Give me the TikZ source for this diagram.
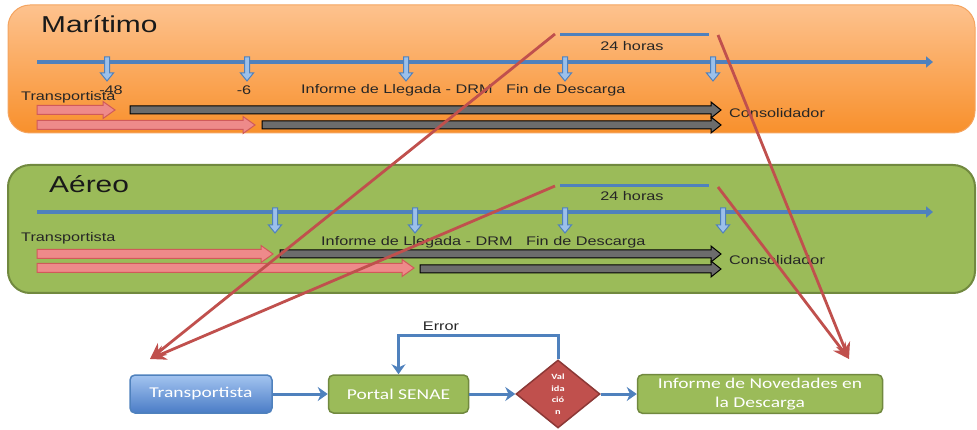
\documentclass[tikz,border=0pt]{standalone}
\usepackage{fontspec}
\setmainfont{Liberation Sans}
\newfontfamily\lblfont[FakeStretch=1.3]{Liberation Sans}
\newfontfamily\boxfont[FakeStretch=1.3]{Carlito}
\usetikzlibrary{arrows.meta, positioning, shapes.geometric}
\definecolor{tlblue}{HTML}{4F81BD}
\definecolor{tlbluelight}{HTML}{9CC0EA}
\definecolor{seablueT}{HTML}{A3C4F0}
\definecolor{seablueB}{HTML}{4A7CC6}
\definecolor{orangeT}{HTML}{FDC28E}
\definecolor{orangeB}{HTML}{F8902C}
\definecolor{orangeD}{HTML}{F4A460}
\definecolor{leafgreen}{HTML}{9BBB59}
\definecolor{leafdark}{HTML}{71893F}
\definecolor{brick}{HTML}{C0504D}
\definecolor{brickdark}{HTML}{8C3836}
\definecolor{salmon}{HTML}{EE8A8A}
\definecolor{salmondark}{HTML}{D05A5A}
\tikzset{
  lbl/.style={inner sep=0pt, font=\lblfont\fontsize{12.5}{14}\selectfont, text=black!85},
  title/.style={inner sep=0pt, font=\lblfont\fontsize{23}{26}\selectfont, text=black!90},
  timeline/.style={line width=3.5pt, tlblue, -{Triangle[length=7pt, width=11pt]}},
  tick/.style={draw=tlblue, line width=1pt, fill=tlbluelight},
  redarrow/.style={draw=salmondark, line width=1pt, fill=salmon},
  grayarrow/.style={draw=black, line width=1pt, top color=gray!85!black, middle color=gray!45, bottom color=gray!85!black},
  flowbox/.style={rectangle, rounded corners=5pt, minimum height=38pt, line width=1.5pt,
    text=white, font=\boxfont\fontsize{15}{19}\selectfont, align=center},
  flow/.style={line width=3pt, tlblue, -{Stealth[length=10pt, width=14pt]}},
  pointer/.style={line width=2.8pt, brick, -{Stealth[length=16pt, width=15pt]}}
}

\begin{document}
\begin{tikzpicture}[x=1pt, y=-1pt]
        \useasboundingbox (0,0) rectangle (977,430);

        % Panels
        \draw[draw=orangeD, line width=1pt, top color=orangeT, bottom color=orangeB, rounded corners=22pt] (8,5) rectangle (975,133);
        \draw[draw=leafdark, line width=2pt, fill=leafgreen, rounded corners=22pt] (8,165) rectangle (975,293);

        \node[title, anchor=west] (mar) at (41,24) {Marítimo};
        \node[title, anchor=west] (aer) at (49,184) {Aéreo};

        % Timelines
        \draw[timeline] (37,62) -- (933,62);
        \draw[timeline] (37,212) -- (933,212);
        \foreach \x in {107,247,406,565,713}
          \draw[tick] (\x-2.5,57) -- (\x+2.5,57) -- (\x+2.5,73) -- (\x+6.5,73) -- (\x,81) -- (\x-6.5,73) -- (\x-2.5,73) -- cycle;
        \foreach \x in {275,415,565,723}
          \draw[tick] (\x-2.5,208) -- (\x+2.5,208) -- (\x+2.5,225) -- (\x+6.5,225) -- (\x,233) -- (\x-6.5,225) -- (\x-2.5,225) -- cycle;

        % 24 horas
        \draw[line width=3pt, tlblue] (560,35) -- (709,35);
        \draw[line width=3pt, tlblue] (560,186) -- (709,186);
        \node[lbl] (h24m) at (632,46) {24 horas};
        \node[lbl] (h24a) at (632,196) {24 horas};

        % Labels
        \node[lbl] (m48) at (111,90) {-48};
        \node[lbl] (m6) at (244,90) {-6};
        \node[lbl, anchor=west] (drmm) at (301,90) {Informe de Llegada - DRM};
        \node[lbl, anchor=west] (finm) at (506,90) {Fin de Descarga};
        \node[lbl, anchor=west] (drma) at (321,242) {Informe de Llegada - DRM};
        \node[lbl, anchor=west] (fina) at (526,242) {Fin de Descarga};

        % Block arrows
        \foreach \a/\b/\y in {37/115/110, 37/255/125, 37/273/254, 37/414/268}
          \draw[redarrow] (\a,\y-4.5) -- (\b-12,\y-4.5) -- (\b-12,\y-8.5) -- (\b,\y) -- (\b-12,\y+8.5) -- (\b-12,\y+4.5) -- (\a,\y+4.5) -- cycle;
        \foreach \a/\b/\y in {130/721/110, 262/721/125, 280/721/254, 420/721/269}
          \draw[grayarrow] (\a,\y-4) -- (\b-10,\y-4) -- (\b-10,\y-8) -- (\b,\y) -- (\b-10,\y+8) -- (\b-10,\y+4) -- (\a,\y+4) -- cycle;

        \node[lbl, anchor=west] (trm) at (21,97) {Transportista};
        \node[lbl, anchor=west] (tra) at (21,238) {Transportista};
        \node[lbl, anchor=west] (conm) at (729,113) {Consolidador};
        \node[lbl, anchor=west] (cona) at (729,260) {Consolidador};

        % Flow
        \node[flowbox, draw=tlblue, top color=seablueT, bottom color=seablueB, minimum width=142pt] (transp) at (201,394) {Transportista};
        \node[flowbox, draw=leafdark, fill=leafgreen, minimum width=140pt, right=55pt of transp] (portal) {Portal SENAE};
        \node[diamond, draw=brickdark, line width=1.5pt, fill=brick, minimum width=84pt, minimum height=68pt, inner sep=0pt,
          shape aspect=1.235, text=white, align=center, font=\boxfont\bfseries\fontsize{8}{11.5}\selectfont, right=46pt of portal] (val) {Val\\ida\\ció\\n};
        \node[flowbox, draw=leafdark, fill=leafgreen, minimum width=245pt, right=36pt of val] (nov) {Informe de Novedades en\\la Descarga};

        \draw[flow] (transp) -- (portal);
        \draw[flow] (portal) -- (val);
        \draw[flow] (val) -- (nov);
        \draw[flow] (val.north) -- ++(0,-24) -| (portal.north);
        \node[lbl] (err) at (441,326) {Error};

        % Pointers
        \coordinate (tipL) at (150,359);
        \coordinate (tipR) at (849,359);
        \coordinate (m24l) at (555,34);
        \coordinate (m24r) at (718,35);
        \coordinate (a24l) at (555,186);
        \coordinate (a24r) at (718,187);
        \draw[pointer] (m24l) -- (tipL);
        \draw[pointer] (a24l) -- (tipL);
        \draw[pointer] (m24r) -- (tipR);
        \draw[pointer] (a24r) -- (tipR);
\end{tikzpicture}
\end{document}
